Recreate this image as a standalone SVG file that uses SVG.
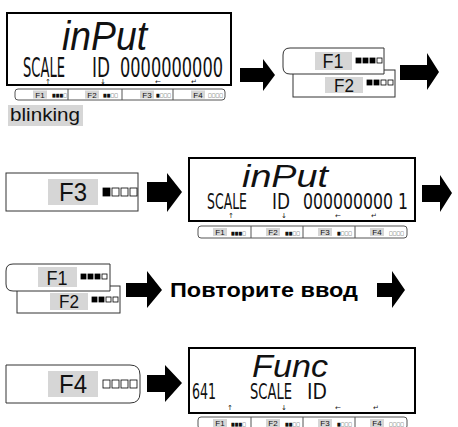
<svg xmlns="http://www.w3.org/2000/svg" width="458" height="427" viewBox="0 0 458 427">
<defs>
<style>
.lcd{fill:#fff;stroke:#000;stroke-width:2}
.key{fill:#fff;stroke:#333;stroke-width:1}
.lbl{fill:#d6d6d6}
.seg{font-family:"DejaVu Sans",sans-serif;fill:#111}
.big{font-family:"Liberation Sans",sans-serif;font-style:italic;fill:#111}
.ar{font-family:"DejaVu Sans",sans-serif;font-size:7px;fill:#111}
.arr{fill:#000}
.strip{fill:#fff;stroke:#555;stroke-width:1}
.div{stroke:#555;stroke-width:1}
.sk{font-family:"Liberation Sans",sans-serif;font-size:8px;fill:#111;text-anchor:middle}
.ind{font-family:"DejaVu Sans",sans-serif;font-size:5px;fill:#111}
.kt{font-family:"Liberation Sans",sans-serif;fill:#111;text-anchor:middle}
.sqf{fill:#000;stroke:#000;stroke-width:0.8}
.sqe{fill:#fff;stroke:#000;stroke-width:0.8}
</style>
</defs>

<g id="connectors">
<path class="arr" d="M240 68H263V59L275 75L263 91V82H240Z"/>
<path class="arr" d="M400 65H427V53L439 72L427 90V80H400Z"/>
<path class="arr" d="M147 182H167V173L182 192L167 212V202H147Z"/>
<path class="arr" d="M422 185H440V175L452 193L440 212V202H422Z"/>
<path class="arr" d="M126 283H147V271L162 290L147 308V297H126Z"/>
<path class="arr" d="M377 283H392V271L405 290L392 308V297H377Z"/>
<path class="arr" d="M147 375H165V365L182 383L165 402V392H147Z"/>
</g>

<g id="display1">
<rect class="lcd" x="7" y="13" width="224" height="72"/>
<text class="big" x="62" y="50" font-size="40" textLength="85" lengthAdjust="spacingAndGlyphs">inPut</text>
<text class="seg" x="23" y="77" font-size="27" textLength="42" lengthAdjust="spacingAndGlyphs">SCALE</text>
<text class="seg" x="92" y="77" font-size="27" textLength="18" lengthAdjust="spacingAndGlyphs">ID</text>
<text class="seg" x="120" y="77" font-size="27" textLength="103" lengthAdjust="spacingAndGlyphs">0000000000</text>
<text class="ar" x="45" y="84">↑</text>
<text class="ar" x="100" y="84">↓</text>
<text class="ar" x="155" y="84">←</text>
<text class="ar" x="191" y="84">↵</text>
<rect class="strip" x="15" y="89" width="210" height="11" rx="3"/>
<line class="div" x1="68" y1="89" x2="68" y2="100"/>
<line class="div" x1="122" y1="89" x2="122" y2="100"/>
<line class="div" x1="173" y1="89" x2="173" y2="100"/>
<rect class="lbl" x="33" y="90.5" width="14" height="8"/>
<text class="sk" x="40" y="97.5">F1</text>
<text class="ind" x="52" y="97" textLength="15" lengthAdjust="spacingAndGlyphs">■■■□</text>
<rect class="lbl" x="85" y="90.5" width="14" height="8"/>
<text class="sk" x="92" y="97.5">F2</text>
<text class="ind" x="103" y="97" textLength="15" lengthAdjust="spacingAndGlyphs">■■□□</text>
<rect class="lbl" x="140" y="90.5" width="14" height="8"/>
<text class="sk" x="147" y="97.5">F3</text>
<text class="ind" x="156" y="97" textLength="15" lengthAdjust="spacingAndGlyphs">■□□□</text>
<rect class="lbl" x="191" y="90.5" width="14" height="8"/>
<text class="sk" x="198" y="97.5">F4</text>
<text class="ind" x="208" y="97" textLength="15" lengthAdjust="spacingAndGlyphs">□□□□</text>
</g>

<g id="blinking">
<rect class="lbl" x="8" y="105" width="75" height="21"/>
<text x="10" y="121" font-family="Liberation Sans, sans-serif" font-size="18" fill="#111" textLength="70" lengthAdjust="spacingAndGlyphs">blinking</text>
</g>

<g id="keys1">
<rect class="key" x="293" y="70" width="102" height="27"/>
<rect class="lbl" x="325" y="77" width="38" height="16"/>
<text class="kt" x="344" y="92" font-size="19" textLength="20" lengthAdjust="spacingAndGlyphs">F2</text>
<rect class="sqf" x="367" y="80" width="5" height="5"/><rect class="sqf" x="374" y="80" width="5" height="5"/><rect class="sqe" x="381" y="80" width="5" height="5"/><rect class="sqe" x="388" y="80" width="5" height="5"/>
<path class="key" d="M384 48H290Q283 48 283 55V67Q283 74 290 74H384Z"/>
<rect class="lbl" x="315" y="52" width="37" height="18"/>
<text class="kt" x="333" y="68" font-size="20" textLength="21" lengthAdjust="spacingAndGlyphs">F1</text>
<rect class="sqf" x="356" y="58" width="5" height="5"/><rect class="sqf" x="363" y="58" width="5" height="5"/><rect class="sqf" x="370" y="58" width="5" height="5"/><rect class="sqe" x="377" y="58" width="5" height="5"/>
</g>

<g id="keyF3">
<rect class="key" x="6" y="173" width="132" height="38"/>
<rect class="lbl" x="48" y="179" width="50" height="26"/>
<text class="kt" x="73" y="201" font-size="26" textLength="28" lengthAdjust="spacingAndGlyphs">F3</text>
<rect class="sqf" x="103" y="188" width="7" height="8"/><rect class="sqe" x="112" y="188" width="7" height="8"/><rect class="sqe" x="121" y="188" width="7" height="8"/><rect class="sqe" x="130" y="188" width="7" height="8"/>
</g>

<g id="display2">
<rect class="lcd" x="189" y="158" width="226" height="63"/>
<text class="big" x="242" y="187" font-size="31" textLength="86" lengthAdjust="spacingAndGlyphs">inPut</text>
<text class="seg" x="207" y="209" font-size="21" textLength="40" lengthAdjust="spacingAndGlyphs">SCALE</text>
<text class="seg" x="272" y="209" font-size="21" textLength="18" lengthAdjust="spacingAndGlyphs">ID</text>
<text class="seg" x="303" y="209" font-size="21" textLength="105" lengthAdjust="spacingAndGlyphs">000000000 1</text>
<text class="ar" x="228" y="218">↑</text>
<text class="ar" x="281" y="218">↓</text>
<text class="ar" x="335" y="218">←</text>
<text class="ar" x="371" y="218">↵</text>
<rect class="strip" x="198" y="226" width="209" height="12" rx="3"/>
<line class="div" x1="251" y1="226" x2="251" y2="238"/>
<line class="div" x1="303" y1="226" x2="303" y2="238"/>
<line class="div" x1="355" y1="226" x2="355" y2="238"/>
<rect class="lbl" x="213" y="228" width="14" height="8"/>
<text class="sk" x="220" y="235">F1</text>
<text class="ind" x="231" y="235" textLength="15" lengthAdjust="spacingAndGlyphs">■■■□</text>
<rect class="lbl" x="266" y="228" width="14" height="8"/>
<text class="sk" x="273" y="235">F2</text>
<text class="ind" x="285" y="235" textLength="15" lengthAdjust="spacingAndGlyphs">■■□□</text>
<rect class="lbl" x="318" y="228" width="14" height="8"/>
<text class="sk" x="325" y="235">F3</text>
<text class="ind" x="337" y="235" textLength="15" lengthAdjust="spacingAndGlyphs">■□□□</text>
<rect class="lbl" x="370" y="228" width="14" height="8"/>
<text class="sk" x="377" y="235">F4</text>
<text class="ind" x="389" y="235" textLength="15" lengthAdjust="spacingAndGlyphs">□□□□</text>
</g>

<g id="keys2">
<rect class="key" x="17" y="286" width="103" height="27"/>
<rect class="lbl" x="50" y="293" width="38" height="17"/>
<text class="kt" x="69" y="308" font-size="19" textLength="20" lengthAdjust="spacingAndGlyphs">F2</text>
<rect class="sqf" x="92" y="297" width="5" height="5"/><rect class="sqf" x="99" y="297" width="5" height="5"/><rect class="sqe" x="106" y="297" width="5" height="5"/><rect class="sqe" x="113" y="297" width="5" height="5"/>
<path class="key" d="M110 264H13Q6 264 6 271V284Q6 291 13 291H110Z"/>
<rect class="lbl" x="38" y="267" width="39" height="20"/>
<text class="kt" x="57" y="285" font-size="20" textLength="21" lengthAdjust="spacingAndGlyphs">F1</text>
<rect class="sqf" x="81" y="274" width="5" height="5"/><rect class="sqf" x="88" y="274" width="5" height="5"/><rect class="sqf" x="95" y="274" width="5" height="5"/><rect class="sqe" x="102" y="274" width="5" height="5"/>
</g>

<g id="repeat">
<text x="170" y="297" font-family="Liberation Sans, sans-serif" font-weight="bold" font-size="21" fill="#000" textLength="188" lengthAdjust="spacingAndGlyphs">Повторите ввод</text>
</g>

<g id="keyF4">
<path class="key" d="M6 365H130Q140 365 140 375V393Q140 403 130 403H6Z"/>
<rect class="lbl" x="48" y="371" width="50" height="26"/>
<text class="kt" x="73" y="393" font-size="26" textLength="28" lengthAdjust="spacingAndGlyphs">F4</text>
<rect class="sqe" x="103" y="380" width="7" height="8"/><rect class="sqe" x="112" y="380" width="7" height="8"/><rect class="sqe" x="121" y="380" width="7" height="8"/><rect class="sqe" x="130" y="380" width="7" height="8"/>
</g>

<g id="display3">
<rect class="lcd" x="189" y="348" width="226" height="65"/>
<text class="big" x="252" y="377" font-size="32" textLength="76" lengthAdjust="spacingAndGlyphs">Func</text>
<text class="seg" x="192" y="399" font-size="21" textLength="24" lengthAdjust="spacingAndGlyphs">641</text>
<text class="seg" x="250" y="399" font-size="21" textLength="42" lengthAdjust="spacingAndGlyphs">SCALE</text>
<text class="seg" x="307" y="399" font-size="21" textLength="20" lengthAdjust="spacingAndGlyphs">ID</text>
<text class="ar" x="227" y="410">↑</text>
<text class="ar" x="281" y="410">↓</text>
<text class="ar" x="335" y="410">←</text>
<text class="ar" x="373" y="410">↵</text>
<rect class="strip" x="198" y="417" width="209" height="12" rx="3"/>
<line class="div" x1="251" y1="417" x2="251" y2="429"/>
<line class="div" x1="303" y1="417" x2="303" y2="429"/>
<line class="div" x1="355" y1="417" x2="355" y2="429"/>
<rect class="lbl" x="213" y="419" width="14" height="8"/>
<text class="sk" x="220" y="426">F1</text>
<text class="ind" x="231" y="426" textLength="15" lengthAdjust="spacingAndGlyphs">■■■□</text>
<rect class="lbl" x="266" y="419" width="14" height="8"/>
<text class="sk" x="273" y="426">F2</text>
<text class="ind" x="285" y="426" textLength="15" lengthAdjust="spacingAndGlyphs">■■□□</text>
<rect class="lbl" x="318" y="419" width="14" height="8"/>
<text class="sk" x="325" y="426">F3</text>
<text class="ind" x="337" y="426" textLength="15" lengthAdjust="spacingAndGlyphs">■□□□</text>
<rect class="lbl" x="370" y="419" width="14" height="8"/>
<text class="sk" x="377" y="426">F4</text>
<text class="ind" x="389" y="426" textLength="15" lengthAdjust="spacingAndGlyphs">□□□□</text>
</g>
</svg>
